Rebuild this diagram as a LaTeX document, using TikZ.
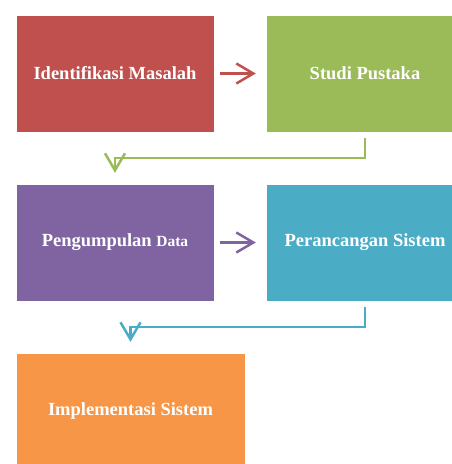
\documentclass[tikz,border=0pt]{standalone}
\usepackage{fontspec}
\setmainfont{Liberation Serif}
\usetikzlibrary{arrows.meta}
\definecolor{merah}{HTML}{C0504D}
\definecolor{hijau}{HTML}{9BBB59}
\definecolor{ungu}{HTML}{8064A2}
\definecolor{biru}{HTML}{4BACC6}
\definecolor{oranye}{HTML}{F79646}
\begin{document}
\begin{tikzpicture}[node distance=169pt]
                \tikzset{ block/.style={rectangle,draw=white,line width=0.4pt,minimum width=198pt,minimum height=117pt,inner sep=0pt,align=center,text=white,font=\bfseries\fontsize{18.5}{22}\selectfont},
                        arrow/.style={-{Straight Barb[length=17pt,width=20pt]}, line width=2.5pt}}
                \useasboundingbox (0,0) rectangle (452pt,-464pt);
                \node[block, fill=merah] (ident) at (115pt,-73.5pt) {Identifikasi Masalah};
                \node[block, right of = ident, xshift=81pt, fill=hijau] (studi) {Studi Pustaka};
                \node[block, below of = ident, fill=ungu] (kumpul) {Pengumpulan {\fontsize{15.5}{20}\selectfont Data}};
                \node[block, right of = kumpul, xshift=81pt, fill=biru] (rancang) {Perancangan Sistem};
                \node[block, below of = kumpul, xshift=15.5pt, minimum width=229pt, fill=oranye] (impl) {Implementasi Sistem};

                % Panah
                \draw[arrow, merah, shorten <=6pt, shorten >=10pt] (ident) -- (studi);
                \draw[arrow, ungu, shorten <=6pt, shorten >=10pt] (kumpul) -- (rancang);
                \draw[arrow, hijau, shorten <=6pt, shorten >=11pt] (studi.south) -- ++(0,-26pt) -| (kumpul.north);
                \draw[arrow, biru, shorten <=6pt, shorten >=11pt] (rancang.south) -- ++(0,-26pt) -| (impl.north);

            \end{tikzpicture}
\end{document}
